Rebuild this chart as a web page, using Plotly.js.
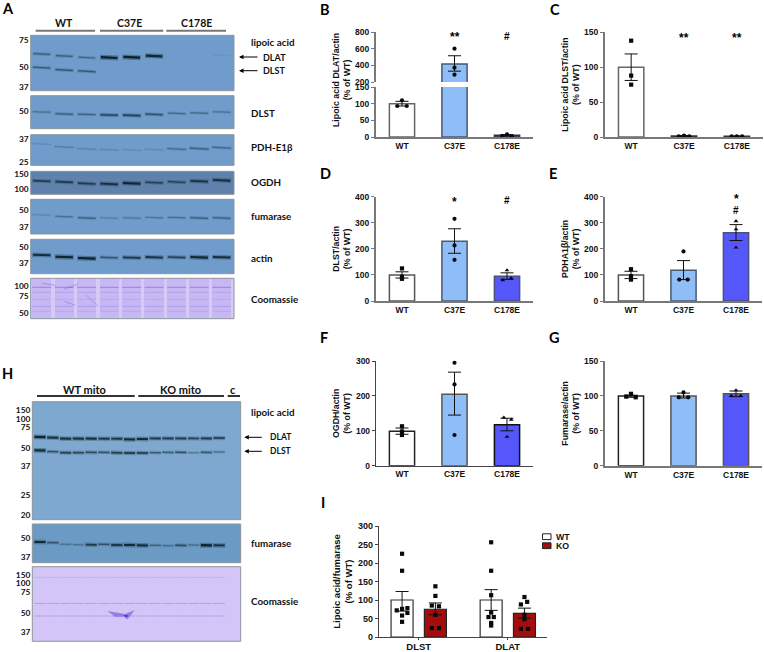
<!DOCTYPE html>
<html><head><meta charset="utf-8">
<script src="https://cdn.plot.ly/plotly-3.0.1.min.js"></script>
<style>html,body{margin:0;padding:0;background:#fff}#c{width:764px;height:652px}</style></head>
<body><div id="c"></div>
<script>
// ---------- bar chart data (% of WT) ----------
const groups = ['WT','C37E','C178E'];
const bMean=[100,416,5], bUp=[107,515,7], bDown=[93,330,3];
const bPts=[[110,93,93],[600,372,288],[8,3,2]];
const cMean=[100,1.5,1], cUp=[119,2,1.3], cDown=[81,1,.7];
const cPts=[[138,88,75],[1,2,1],[1,1,1]];
const dMean=[100,229,95], dUp=[112,277,108], dDown=[88,183,83];
const dPts=[[125,93,85],[315,213,158],[118,87,80]];
const eMean=[100,118,262], eUp=[114,155,293], eDown=[86,82,232];
const ePts=[[122,95,82],[190,82,82],[306,275,205]];
const fMean=[99,205,117], fUp=[108,268,136], fDown=[90,145,100];
const fPts=[[113,98,88],[295,233,88],[138,132,83]];
const gMean=[100,100,103], gUp=[101,104,107], gDown=[98,97,99];
const gPts=[[103,99,98],[105,98,98],[108,100,100]];
const iGroups=['DLST','DLAT'];
const iWT=[100,100], iWTup=[123,128], iWTdown=[70,72];
const iKO=[75,64], iKOup=[92,78], iKOdown=[60,51];
const iWTdlst=[225,179,72,76,78,65,58,41], iWTdlat=[256,179,113,66,54,54,38,31];
const iKOdlst=[137,111,85,83,60,24,24], iKOdlat=[108,95,88,60,48,22,22];
const jit0=[0,0,0], jit3=[0,-0.09,0.09], jitL=[-.1,0,.1];
const iJitWTdlst=[0,0,-.06,0,.06,.06,0,0], iJitWTdlat=[0,0,0,0,-.03,.03,0,0];
const iJitKOdlst=[0,0,-.04,.04,0,-.04,.04], iJitKOdlat=[0,.03,-.04,0,0,-.04,.04];

// ---------- blot data: lane, migration (from panel top), band strength ----------
const laneA=[1,2,3,4,5,6,7,8,9];
const a1DlatY=[18.7,20.7,22.3,22.3,22,20.7,0,0,20], a1DlatS=[.42,.42,.36,1,1,.92,0,0,.015];
const a1DlstY=[32.3,34.7,36,0,0,0,0,0,0], a1DlstS=[.45,.45,.45,0,0,0,0,0,0];
const a2Y=[16.3,18.3,18.7,19.3,19.7,18.7,17.7,17.3,16.3], a2S=[.3,.42,.38,.62,.66,.52,.32,.32,.28];
const a3Y=[9.3,12.3,14.3,15,15.3,15,14.3,14,13], a3S=[.08,.18,.14,.12,.08,.1,.34,.4,.34];
const a4Y=[9.7,10.7,12.3,12.7,12,11.3,10.7,10,9], a4S=[.62,.66,.66,.82,.9,.6,.55,.76,.8];
const a5Y=[15.7,17.3,18.7,18.7,18.7,18.3,18.3,18.7,18.7], a5S=[.12,.28,.4,.18,.24,.24,.3,.42,.4];
const a6Y=[15.7,17.7,19,18.3,18.3,18,18,18,18], a6S=[.85,.96,.96,.5,.75,.8,.68,.92,.85];
const a7Rows=[9,14,21,28,33], a7RowS=[.36,.14,.1,.18,.1];
const a7MarkLane=[1,1.6,null,2,2.6,null,2,2.5,null,3,3.5], a7MarkY=[5,7,null,11,6,null,23,27,null,17,28];
const laneH=[1,2,3,4,5,6,7,8,9,10,11,12,13,14,15];
const h1DlatY=[35.3,36,37,37,37,37,37,37.7,37.3,36.7,36.7,36.7,36.7,36.7,36.3];
const h1DlatS=[.98,.85,.85,.85,.85,.8,.8,.9,.9,.75,.75,.75,.7,.75,.7];
const h1DlstY=[48.7,50,51,51,50.7,50.7,51,51.3,51.3,51,50.7,50.7,51,50.7,50.3];
const h1DlstS=[.92,.55,.68,.62,.62,.55,.72,.78,.72,.5,.45,.55,.28,.5,.34];
const h2Y=[18,18.7,20.3,20.7,20.7,20.3,21,21,21.3,21.3,21.7,21.3,21,21.3,21.3];
const h2S=[.88,.5,.26,.26,.72,.5,.82,.88,.88,.38,.3,.55,.3,.98,.82];
const h3Rows=[10.7,36.7,49.3], h3RowS=[.22,.42,.38];
const smearLane=[6.26,6.99,7.64,8.42,8.03,7.82,7.56,6.86], smearY=[44.3,46,47.3,43.3,49.3,52.7,50,50];
const smearCoreLane=[7.5,7.77,7.9], smearCoreY=[48.5,50.5,48.5];

// ---------- colours ----------
const white='#ffffff', lightBlue='#8fbdf7', deepBlue='#5557fa', koRed='#a50d0d';
const blotBlue='#6f9cca', blotDeep='#5f82ad', blotBlue2='#7ea8d0', blotBlue3='#6b9ac4', coomassie='#d6cbf7', coomassie2='#d3c5f8';
const chartFont='"Liberation Sans", Arial, sans-serif', blotFont='Lato, "Open Sans", sans-serif';

const W=764,H=652;
const traces=[], layout={width:W,height:H,margin:{l:0,r:0,t:0,b:0,pad:0},paper_bgcolor:'#fff',plot_bgcolor:'rgba(0,0,0,0)',
  showlegend:false,hovermode:false,bargap:0,annotations:[],shapes:[]};
let n=1;
function dom(r){return {x:[r[0]/W,r[2]/W],y:[1-r[3]/H,1-r[1]/H]};}
function newAxes(){n++;return {xk:'xaxis'+n,yk:'yaxis'+n,x:'x'+n,y:'y'+n};}
function note(text,x,y,o){o=o||{};layout.annotations.push({text:text,x:x/W,y:1-y/H,xref:'paper',yref:'paper',showarrow:false,
  xanchor:o.anchor||'left',yanchor:'middle',font:{family:o.family||blotFont,size:o.size||9.8,color:o.color||'#111',weight:o.weight||700},textangle:o.angle||0});}
function arrow(x,y,tail){layout.annotations.push({text:'',x:x/W,y:1-y/H,xref:'paper',yref:'paper',showarrow:true,ax:tail,ay:0,axref:'pixel',ayref:'pixel',arrowhead:2,arrowsize:.9,arrowwidth:1,arrowcolor:'#000'});}
function bar(x0,x1,y,color,w){layout.shapes.push({type:'line',xref:'paper',yref:'paper',x0:x0/W,x1:x1/W,y0:1-y/H,y1:1-y/H,line:{color:color,width:w}});}

function blot(r,xr,fill,tv,tt){
  const a=newAxes(),d=dom(r);
  layout[a.xk]={domain:d.x,range:xr,anchor:a.y,showgrid:false,zeroline:false,showticklabels:false,ticks:'',showline:false,fixedrange:true};
  layout[a.yk]={domain:d.y,range:[r[3]-r[1],0],anchor:a.x,showgrid:false,zeroline:false,showline:false,ticks:'',tickvals:tv,ticktext:tt,
    tickfont:{family:blotFont,size:8.3,color:'#111',weight:700},fixedrange:true,ticklabelstandoff:1};
  layout.shapes.push({type:'rect',layer:'below',xref:'paper',yref:'paper',x0:r[0]/W,x1:r[2]/W,y0:1-r[3]/H,y1:1-r[1]/H,fillcolor:fill,line:{color:'#8d959c',width:1}});
  return a;
}
function bands(a,lanes,ys,ss,hw,tilt){
  lanes.forEach((l,i)=>{const s=ss[i]; if(!s) return;
    const x=[l-hw,l+hw], y=[ys[i]-tilt,ys[i]+tilt];
    traces.push({type:'scatter',mode:'lines',xaxis:a.x,yaxis:a.y,x:x,y:y,hoverinfo:'skip',line:{color:'rgba(15,45,60,'+(0.03+0.32*s)+')',width:2+3*s}});
    traces.push({type:'scatter',mode:'lines',xaxis:a.x,yaxis:a.y,x:[x[0]+hw*.08,x[1]-hw*.08],y:y,hoverinfo:'skip',line:{color:'rgba(5,20,25,'+(0.02+0.86*s)+')',width:.7+1.5*s}});
  });
}
function rows(a,lanes,ys,ss,hw,rgb,w){
  ys.forEach((yy,k)=>{const xs=[],ysv=[];
    lanes.forEach(l=>{xs.push(l-hw,l+hw,null);ysv.push(yy,yy,null);});
    traces.push({type:'scatter',mode:'lines',xaxis:a.x,yaxis:a.y,x:xs,y:ysv,hoverinfo:'skip',line:{color:'rgba('+rgb+','+ss[k]+')',width:w}});
  });
}

function chart(o){
  const a=newAxes(),d=dom(o.rect),line=o.line||'#787878',lw=o.lw||2;
  layout[a.xk]={domain:d.x,range:o.xr||[.505,3.495],anchor:a.y,showgrid:false,zeroline:false,showline:o.hideX?false:true,linecolor:line,linewidth:lw,
    tickvals:o.hideX?[]:(o.xv||[1,2,3]),ticktext:o.hideX?[]:(o.xt||groups),ticks:o.xticks?'outside':'',ticklen:2,tickcolor:line,tickwidth:1,
    tickfont:{family:chartFont,size:o.xsize||8.5,color:'#111',weight:700},tickangle:0,fixedrange:true,showticklabels:!o.hideX,ticklabelstandoff:o.xstand||0};
  layout[a.yk]={domain:d.y,range:o.yr,anchor:a.x,showgrid:false,zeroline:false,showline:true,linecolor:line,linewidth:lw,tickvals:o.yt,ticks:'outside',ticklen:3,tickcolor:line,tickwidth:1,
    tickfont:{family:chartFont,size:8.5,color:'#111',weight:700},fixedrange:true,
    title:o.title?{text:o.title,font:{family:chartFont,size:8.8,color:'#111',weight:700},standoff:o.standoff||3}:undefined};
  return a;
}
function barsOn(a,x,y,up,down,colors,width,lineCol,lw){
  traces.push({type:'bar',xaxis:a.x,yaxis:a.y,x:x,y:y,width:width,marker:{color:colors,line:{color:lineCol,width:lw||1.5}},hoverinfo:'skip',
    error_y:{type:'data',symmetric:false,array:up.map((v,i)=>v==null?null:v-y[i]),arrayminus:down.map((v,i)=>v==null?null:y[i]-v),color:'#111',thickness:1,width:6.5}});
}
function pts(a,x,y,sym){traces.push({type:'scatter',mode:'markers',xaxis:a.x,yaxis:a.y,x:x,y:y,cliponaxis:false,hoverinfo:'skip',marker:{symbol:sym,size:4.2,color:'#0a0a0a'}});}
function pts3(a,all,syms,jit){all.forEach((p,i)=>pts(a,p.map((_,k)=>i+1+jit[i][k]),p,syms[i]));}
function star(a,text,cat,v){layout.annotations.push({text:text,x:cat,y:v,xref:a.x,yref:a.y,showarrow:false,font:{family:chartFont,size:text[0]==='#'?10:12,color:'#000',weight:700}});}

const barCols=[white,lightBlue,deepBlue];
// ---- B (broken axis) ----
const bLow=chart({rect:[376,87,533,137],yr:[0,150],yt:[0,50,100,150]});
const bHigh=chart({rect:[376,32,533,82],yr:[200,800],yt:[200,400,600,800],hideX:true});
barsOn(bLow,[1,2,3],bMean,[bUp[0],null,bUp[2]],[bDown[0],null,bDown[2]],barCols,.48,['#666','#4a5a70','#333']);
barsOn(bHigh,[2],[bMean[1]],[bUp[1]],[bDown[1]],[lightBlue],.48,'#4a5a70');
pts(bLow,bPts[0].map((_,k)=>1+jit3[k]),bPts[0],'circle');
pts(bLow,bPts[2].map((_,k)=>3+jit3[k]),bPts[2],'circle');
pts(bHigh,bPts[1].map(()=>2),bPts[1],'circle');
star(bHigh,'**',2,735); star(bHigh,'#',3,745);
note('Lipoic acid DLAT/actin<br>(% of WT)',342,80,{family:chartFont,size:8.8,anchor:'center',angle:-90});
// ---- C ----
const cA=chart({rect:[605,32.3,763,137],yr:[0,150],yt:[0,50,100,150],title:'Lipoic acid DLST/actin<br>(% of WT)'});
barsOn(cA,[1,2,3],cMean,cUp,cDown,barCols,.48,['#666','#333','#333']);
pts3(cA,cPts,['square','circle','circle'],[jit0,jitL,jitL]);
star(cA,'**',2,142); star(cA,'**',3,142);
// ---- D ----
const dA=chart({rect:[376,196.7,533,301],yr:[0,400],yt:[0,100,200,300,400],title:'DLST/actin<br>(% of WT)'});
barsOn(dA,[1,2,3],dMean,dUp,dDown,barCols,.48,['#555','#4a5a70','#4a5080']);
pts3(dA,dPts,['square','circle','triangle-up'],[jit0,jit0,[0,.08,-.08]]);
star(dA,'*',2,380); star(dA,'#',3,384);
// ---- E ----
const eA=chart({rect:[605,196.7,762,301],yr:[0,400],yt:[0,100,200,300,400],title:'PDHA1β/actin<br>(% of WT)'});
barsOn(eA,[1,2,3],eMean,eUp,eDown,barCols,.48,['#555','#4a5a70','#4a5080']);
pts3(eA,ePts,['square','circle','triangle-up'],[jit0,[0,-.08,.08],jit0]);
star(eA,'*',3,393); star(eA,'#',3,349);
// ---- F ----
const fA=chart({rect:[376,361,533,465.7],yr:[0,300],yt:[0,100,200,300],title:'OGDH/actin<br>(% of WT)',line:'#444',lw:1.2});
barsOn(fA,[1,2,3],fMean,fUp,fDown,barCols,.48,['#222','#555','#111']);
pts3(fA,fPts,['square','circle','triangle-up'],[jit0,jit0,[-.06,.08,0]]);
// ---- G ----
const gA=chart({rect:[605,361,762,465.7],yr:[0,150],yt:[0,50,100,150],title:'Fumarase/actin<br>(% of WT)'});
barsOn(gA,[1,2,3],gMean,gUp,gDown,barCols,.48,['#222','#555','#555']);
pts3(gA,gPts,['square','circle','triangle-up'],[jit3,jit3,jit3]);
// ---- I ----
const iA=chart({rect:[379,526,547,637],xr:[.554,2.44],xv:[1,2],xt:iGroups,xticks:true,xsize:9.5,xstand:-2,yr:[0,300],yt:[0,50,100,150,200,250,300],
  title:'Lipoic acid/fumarase<br>(% of WT)',line:'#444',lw:1.2});
layout[iA.yk].tickfont.size=9; layout[iA.yk].title.font.size=9.5;
barsOn(iA,[1-.187,2-.187],iWT,iWTup,iWTdown,white,.247,'#333',1.2);
barsOn(iA,[1+.187,2+.187],iKO,iKOup,iKOdown,koRed,.247,'#222',1.2);
pts(iA,iWTdlst.map((_,k)=>1-.187+iJitWTdlst[k]),iWTdlst,'square');
pts(iA,iKOdlst.map((_,k)=>1+.187+iJitKOdlst[k]),iKOdlst,'square');
pts(iA,iWTdlat.map((_,k)=>2-.187+iJitWTdlat[k]),iWTdlat,'square');
pts(iA,iKOdlat.map((_,k)=>2+.187+iJitKOdlat[k]),iKOdlat,'square');
[[white,536.7,'WT'],[koRed,545.7,'KO']].forEach(e=>{
  layout.shapes.push({type:'rect',xref:'paper',yref:'paper',x0:542.5/W,x1:551/W,y0:1-(e[1]+2.9)/H,y1:1-(e[1]-2.9)/H,fillcolor:e[0],line:{color:'#222',width:1}});
  note(e[2],553.5,e[1],{family:chartFont,size:8.8});
});

// ---- A blots ----
const xA=[.51,9.55];
const a1=blot([30.7,35.3,234,90.7],xA,blotBlue,[4.7,32,51.7],['75','50','37']);
bands(a1,laneA,a1DlatY,a1DlatS,.4,.4); bands(a1,laneA,a1DlstY,a1DlstS,.42,.5);
const a2=blot([30.7,95.7,234,128.7],xA,blotBlue,[15.7],['50']); bands(a2,laneA,a2Y,a2S,.42,.3);
const a3=blot([30.7,134.7,234,165.3],xA,blotBlue,[4,27.7],['37','25']); bands(a3,laneA,a3Y,a3S,.45,.5);
const a4=blot([30.7,171.3,234,194.3],xA,blotDeep,[2.3,17.3],['150','100']); bands(a4,laneA,a4Y,a4S,.42,.4);
const a5=blot([30.7,199.3,234,234],xA,blotBlue,[10.3,27.3],['50','37']); bands(a5,laneA,a5Y,a5S,.42,.3);
const a6=blot([30.7,239.3,234,273.7],xA,blotBlue,[7.3,23.3],['50','37']); bands(a6,laneA,a6Y,a6S,.42,.3);
const a7=blot([30.7,278.3,234,318.7],xA,coomassie,[7.3,18,34.3],['100','75','50']);
traces.push({type:'bar',xaxis:a7.x,yaxis:a7.y,x:laneA,y:laneA.map(()=>40),width:.86,marker:{color:'rgba(150,125,232,.24)',line:{width:0}},hoverinfo:'skip'});
rows(a7,laneA,a7Rows,a7RowS,.42,'95,60,205',1.3);
traces.push({type:'scatter',mode:'lines',xaxis:a7.x,yaxis:a7.y,x:a7MarkLane,y:a7MarkY,connectgaps:false,hoverinfo:'skip',line:{color:'rgba(85,55,195,.4)',width:.8}});
// ---- H blots ----
const xH=[.4,16.68];
const h1=blot([32.3,401.7,240.7,519.7],xH,blotBlue2,[8.3,17,25.3,46,64.7,93.3,113],['150','100','75','50','37','25','20']);
bands(h1,laneH,h1DlatY,h1DlatS,.47,.1); bands(h1,laneH,h1DlstY,h1DlstS,.47,.1);
const h2=blot([32.3,524,240.7,562.7],xH,blotBlue3,[13.7,32.7],['50','37']); bands(h2,laneH,h2Y,h2S,.47,.1);
const h3=blot([32.3,566.7,240.7,641.3],xH,coomassie2,[8.3,16.7,25.3,46.3,65],['150','100','75','50','37']);
rows(h3,laneH,h3Rows,h3RowS,.45,'125,95,220',.9);
traces.push({type:'scatter',mode:'lines',xaxis:h3.x,yaxis:h3.y,x:smearLane.concat(smearLane[0]),y:smearY.concat(smearY[0]),fill:'toself',fillcolor:'rgba(110,80,215,.6)',line:{width:0},hoverinfo:'skip'});
traces.push({type:'scatter',mode:'lines',xaxis:h3.x,yaxis:h3.y,x:smearCoreLane.concat(smearCoreLane[0]),y:smearCoreY.concat(smearCoreY[0]),fill:'toself',fillcolor:'rgba(60,25,190,.9)',line:{width:0},hoverinfo:'skip'});

// ---- blot labels ----
note('WT',64,22.7,{anchor:'center',size:10.5}); note('C37E',129,22.7,{anchor:'center',size:10.5}); note('C178E',196.7,22.7,{anchor:'center',size:10.5});
bar(35.7,95,30.7,'#777',2); bar(100,163.3,30.7,'#777',2); bar(166.3,226,30.7,'#777',2);
[['lipoic acid',42],['DLST',113],['PDH-E1β',147],['OGDH',182],['fumarase',216],['actin',257.7],['Coomassie',299]].forEach(e=>note(e[0],248.7,e[1]));
note('DLAT',261,57,{size:9}); note('DLST',261,70.7,{size:9}); arrow(239,57,20); arrow(239,70.7,20);
note('WT mito',84.7,389.3,{anchor:'center',size:11}); note('KO mito',180,389.3,{anchor:'center',size:11}); note('c',233.3,389.3,{anchor:'center',size:11});
bar(37,134.7,396,'#333',2); bar(138.3,224,396,'#333',2); bar(227.7,240,396,'#333',2);
note('lipoic acid',249.3,412); note('fumarase',249.3,542.7); note('Coomassie',249.3,601);
note('DLAT',268.3,437.3,{size:8.5}); note('DLST',268.3,451.3,{size:8.5}); arrow(244.3,437.3,19); arrow(244.3,451.3,19);
// ---- panel letters ----
[['A',0,8],['B',318,9],['C',548,9],['D',318,173],['E',547,173],['F',318,337],['G',547,337],['H',0,373],['I',319,502]].forEach(e=>note(e[0],e[1],e[2],{size:14.5,color:'#000'}));

Plotly.newPlot('c',traces,layout,{displayModeBar:false,staticPlot:true});
</script></body></html>
